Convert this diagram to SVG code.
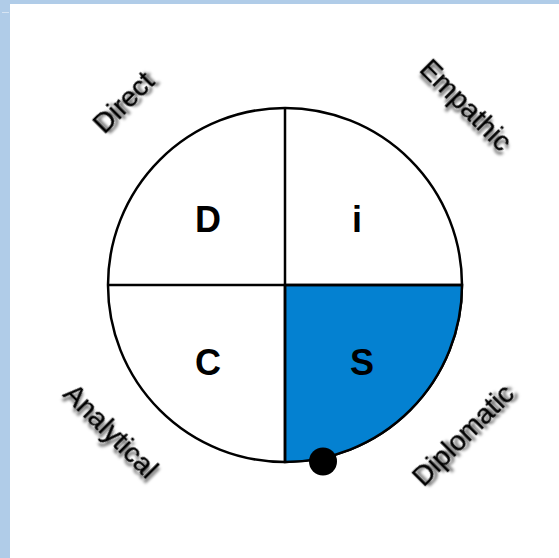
<svg xmlns="http://www.w3.org/2000/svg" width="559" height="558" viewBox="0 0 559 558">
<defs>
<filter id="sh" x="-20%" y="-40%" width="140%" height="180%">
<feGaussianBlur in="SourceAlpha" stdDeviation="1.6" result="b"/>
<feOffset in="b" dx="2.5" dy="2.5" result="o"/>
<feFlood flood-color="#000" flood-opacity="0.6"/>
<feComposite in2="o" operator="in" result="s"/>
<feMerge><feMergeNode in="s"/><feMergeNode in="SourceGraphic"/></feMerge>
</filter>
</defs>
<style>
.q{fill:#fff;stroke:#000;stroke-width:2.5}
.letter{font-family:"Liberation Sans",Arial,sans-serif;font-weight:bold;font-size:36px;fill:#000;text-anchor:middle}
.lab{font-family:"Liberation Sans",Arial,sans-serif;font-size:28px;fill:#000;stroke:#000;stroke-width:0.4;text-anchor:middle;filter:url(#sh)}
</style>
<rect width="559" height="558" fill="#fff"/>
<rect x="0" y="0" width="559" height="4" fill="#b0cce8"/>
<rect x="0" y="0" width="10" height="558" fill="#b0cce8"/>
<rect x="2" y="12" width="7" height="1" fill="#d6e4f3"/>
<g id="circle">
<circle cx="285" cy="285" r="177" class="q"/>
</g>
<g id="S">
<path d="M285,285 H462 A177,177 0 0 1 285,462 Z" fill="#0481d1" stroke="#000" stroke-width="2.5"/>
<text class="letter" x="362" y="375">S</text>
</g>
<g id="connectors">
<line x1="285" y1="108" x2="285" y2="462" stroke="#000" stroke-width="2.5"/>
<line x1="108" y1="285" x2="462" y2="285" stroke="#000" stroke-width="2.5"/>
</g>
<g id="D"><text class="letter" x="208" y="232">D</text></g>
<g id="i"><text class="letter" x="357" y="232">i</text></g>
<g id="C"><text class="letter" x="208" y="375">C</text></g>
<g id="dot"><circle cx="323" cy="461.5" r="14" fill="#000"/></g>
<g id="Direct"><text class="lab" transform="translate(123,102) rotate(-45)" y="10">Direct</text></g>
<g id="Empathic"><text class="lab" transform="translate(465,106) rotate(45)" y="8">Empathic</text></g>
<g id="Analytical"><text class="lab" transform="translate(110,432) rotate(45)" y="8">Analytical</text></g>
<g id="Diplomatic"><text class="lab" transform="translate(464,436) rotate(-45)" y="8">Diplomatic</text></g>
</svg>
